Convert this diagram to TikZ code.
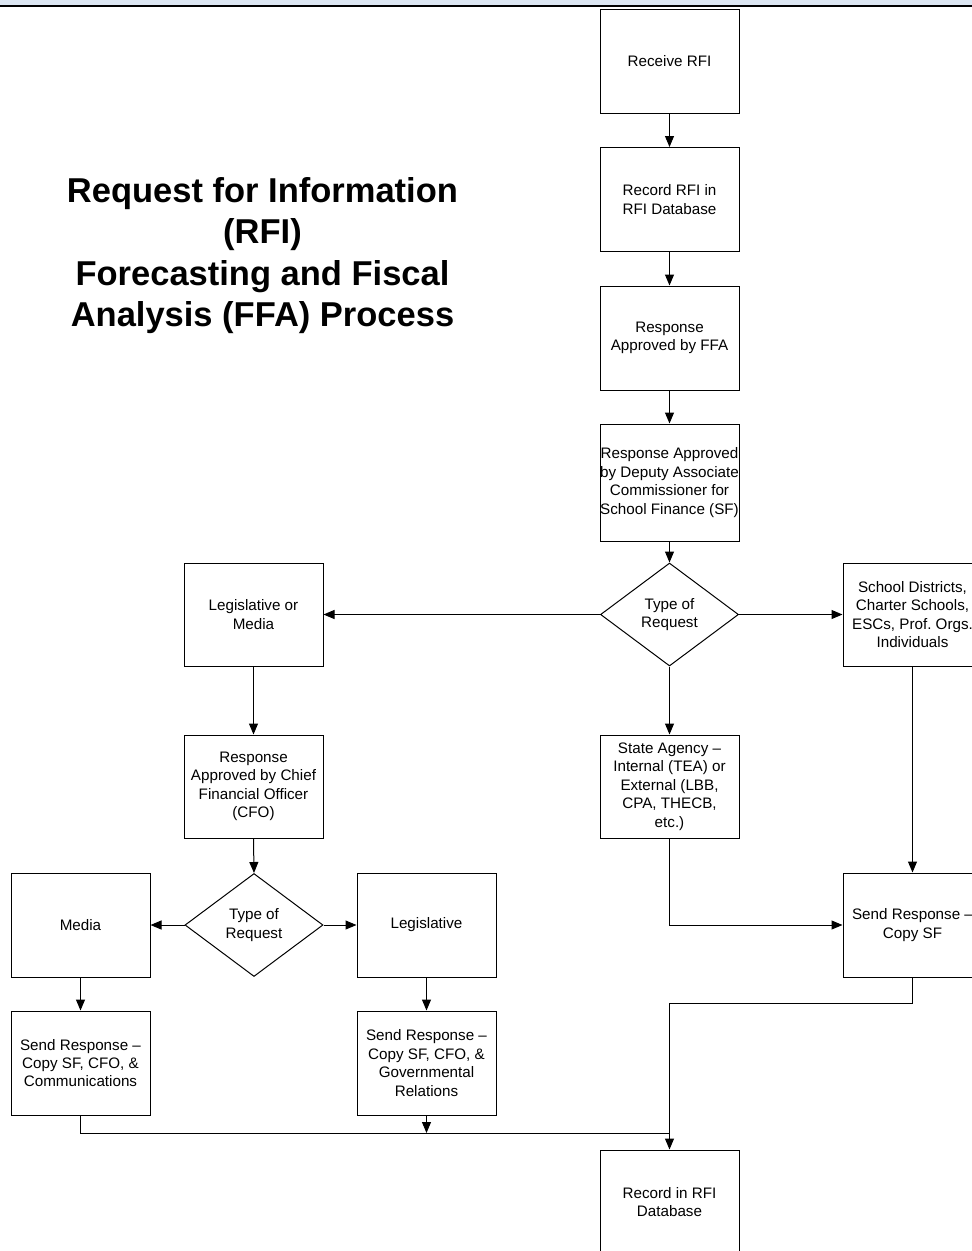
\documentclass[tikz,border=0pt]{standalone}
\usepackage{fontspec}
\setmainfont{Liberation Sans}
\usetikzlibrary{shapes.geometric,arrows.meta}
\definecolor{bandblue}{HTML}{DCE6F2}
\frenchspacing
\tikzset{
  procbox/.style={draw=black, line width=1pt, fill=white, minimum width=139pt, minimum height=104pt, inner sep=0pt, align=center, font=\fontsize{15.2}{18.4}\selectfont},
  decbox/.style={draw=black, line width=1pt, fill=white, shape=diamond, shape aspect=1.34, minimum width=138pt, minimum height=103pt, inner sep=0pt, align=center, font=\fontsize{15.2}{18.4}\selectfont},
  conn/.style={draw=black, line width=1pt},
  arr/.style={conn, -{Triangle[length=11pt,width=9pt]}}
}
\begin{document}
\begin{tikzpicture}[x=1pt,y=-1pt]
\useasboundingbox (0,0) rectangle (972,1251);
\clip (0,0) rectangle (972,1251);
\fill[bandblue] (0,0) rectangle (972,4.6);
\fill[black] (0,4.6) rectangle (972,6.6);

\node[font=\bfseries\fontsize{34.5}{41.6}\selectfont, align=center] (title) at (262.5,255.5)
  {Request for Information\\(RFI)\\Forecasting and Fiscal\\Analysis (FFA) Process};

\node[procbox] (recv) at (669.5,61) {Receive RFI};
\node[procbox] (rec1) at (669.5,199.5) {Record RFI in\\RFI Database};
\node[procbox] (appffa) at (669.5,338) {Response\\Approved by FFA};
\node[procbox, minimum height=117pt] (appsf) at (669.5,482.5) {Response Approved\\by Deputy Associate\\Commissioner for\\School Finance (SF)};
\node[decbox] (type1) at (669.5,614.5) {Type of\\Request};
\node[procbox, minimum height=103pt] (legmed) at (253.5,614.5) {Legislative or\\Media};
\node[procbox, minimum height=103pt] (schools) at (912.5,614.5) {School Districts,\\Charter Schools,\\ESCs, Prof. Orgs.\\Individuals};
\node[procbox, minimum height=103pt] (state) at (669.5,786.5) {State Agency --\\Internal (TEA) or\\External (LBB,\\CPA, THECB,\\etc.)};
\node[procbox, minimum height=103pt] (cfo) at (253.5,786.5) {Response\\Approved by Chief\\Financial Officer\\(CFO)};
\node[decbox] (type2) at (254,925) {Type of\\Request};
\node[procbox] (media) at (80.5,925) {Media};
\node[procbox] (legis) at (426.5,925) {Legislative};
\node[procbox] (sendsf) at (912.5,925) {Send Response --\\Copy SF};
\node[procbox] (sendcomm) at (80.5,1063) {Send Response --\\Copy SF, CFO, \&\\Communications};
\node[procbox] (sendgov) at (426.5,1063) {Send Response --\\Copy SF, CFO, \&\\Governmental\\Relations};
\node[procbox] (rec2) at (669.5,1202) {Record in RFI\\Database};

\coordinate (j1) at (912.5,1003);
\coordinate (j3) at (669.5,1133);

\draw[arr] (recv.south) -- (rec1.north);
\draw[arr] (rec1.south) -- (appffa.north);
\draw[arr] (appffa.south) -- (appsf.north);
\draw[arr] (appsf.south) -- (type1.north);
\draw[arr] (type1.west) -- (legmed.east);
\draw[arr] (type1.east) -- (schools.west);
\draw[arr] (type1.south) -- (state.north);
\draw[arr] (legmed.south) -- (cfo.north);
\draw[arr] (cfo.south) -- (type2.north);
\draw[arr] (type2.west) -- (media.east);
\draw[arr] (type2.east) -- (legis.west);
\draw[arr] (media.south) -- (sendcomm.north);
\draw[arr] (legis.south) -- (sendgov.north);
\draw[arr] (schools.south) -- (sendsf.north);
\draw[arr] (state.south) |- (sendsf.west);
\draw[arr] (sendsf.south) -- (j1) -| (rec2.north);
\draw[conn] (sendcomm.south) |- (j3);
\draw[arr] (sendgov.south) -- (sendgov.south |- j3);
\end{tikzpicture}
\end{document}
